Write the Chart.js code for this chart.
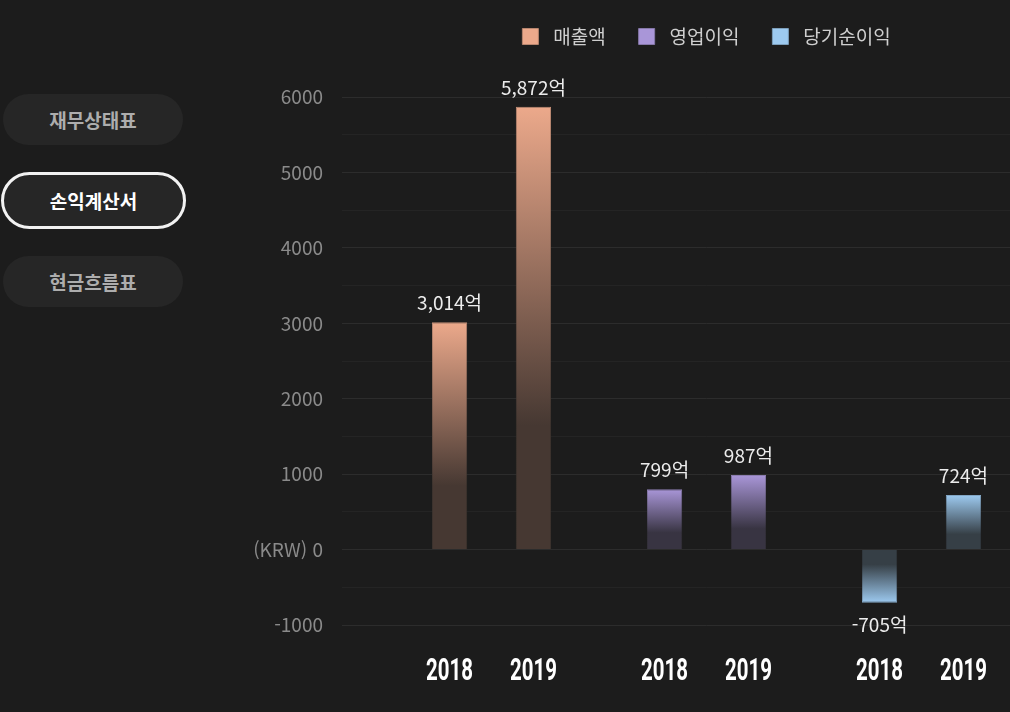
<!DOCTYPE html>
<html lang="ko">
<head>
<meta charset="utf-8">
<title>손익계산서</title>
<script src="https://cdn.jsdelivr.net/npm/chart.js@4.4.1/dist/chart.umd.min.js"></script>
<style>
  html, body { margin: 0; padding: 0; background: #1c1c1c; width: 1010px; height: 712px; overflow: hidden; }
  body { position: relative; font-family: "Noto Sans CJK KR", "Noto Sans", sans-serif; }
  .tab {
    position: absolute; left: 3px; width: 180px; height: 51px; border-radius: 26px;
    background: #262626; color: #adadad; font-size: 19px; font-weight: 700;
    display: flex; align-items: center; justify-content: center; box-sizing: border-box;
  }
  .tab.active { left: 1px; width: 185px; height: 57px; border: 3px solid #f2f2f2; color: #fff; border-radius: 29px; }
  #wrap { position: absolute; left: 240px; top: 0; width: 789px; height: 712px; }
</style>
</head>
<body>
<div class="tab" style="top:94px">재무상태표</div>
<div class="tab active" style="top:172px">손익계산서</div>
<div class="tab" style="top:256px">현금흐름표</div>
<div id="wrap"><canvas id="plChart"></canvas></div>
<script>
// 손익계산서 데이터 (단위: 억원)
const series = ['매출액', '영업이익', '당기순이익'];
const years = ['2018', '2019'];
const values2018 = [3014, 799, -705];
const values2019 = [5872, 987, 724];
const yLabels = [-1000, 0, 1000, 2000, 3000, 4000, 5000, 6000];
const seriesColors = ['#eca98b', '#a996d8', '#9dcaf0'];
const bgColor = [28, 28, 28];

// 배경색과 섞기
function mix(hex, t) {
  const n = parseInt(hex.slice(1), 16);
  const c = [(n >> 16) & 255, (n >> 8) & 255, n & 255];
  const r = c.map((v, i) => Math.round(v * t + bgColor[i] * (1 - t)));
  return 'rgb(' + r.join(',') + ')';
}

// 막대마다 위(값)에서 0 방향으로 어두워지는 그라데이션
function barGradient(context, strength) {
  const chart = context.chart;
  const base = seriesColors[context.dataIndex];
  if (!chart.chartArea) return base;
  const y = chart.scales.y;
  const yEnd = y.getPixelForValue(context.raw);
  const y0 = y.getPixelForValue(0);
  if (Math.abs(yEnd - y0) < 1) return base;
  const g = chart.ctx.createLinearGradient(0, yEnd, 0, y0);
  g.addColorStop(0, mix(base, strength));
  g.addColorStop(0.72, mix(base, 0.2 * strength));
  g.addColorStop(1, mix(base, 0.2 * strength));
  return g;
}

// 값 라벨 + 연도 라벨
const barLabels = {
  id: 'barLabels',
  afterDatasetsDraw(chart) {
    const ctx = chart.ctx;
    const bottom = chart.chartArea.bottom;
    ctx.save();
    chart.data.datasets.forEach((ds, di) => {
      chart.getDatasetMeta(di).data.forEach((bar, i) => {
        const v = ds.data[i];
        ctx.font = '19px "Noto Sans CJK KR"';
        ctx.fillStyle = '#ececec';
        ctx.textAlign = 'center';
        ctx.textBaseline = 'alphabetic';
        const text = v.toLocaleString('en-US') + '억';
        if (v >= 0) ctx.fillText(text, bar.x, bar.y - 12);
        else ctx.fillText(text, bar.x, bar.y + 29);

        ctx.save();
        ctx.translate(bar.x, bottom + 55);
        ctx.scale(0.66, 1);
        ctx.font = 'bold 31px Roboto';
        ctx.fillStyle = '#ffffff';
        ctx.fillText(ds.label, 0, 0);
        ctx.restore();
      });
    });
    ctx.restore();
  }
};

// 범례 아래 여백
const legendSpace = {
  id: 'legendSpace',
  beforeInit(chart) {
    const fit = chart.legend.fit;
    chart.legend.fit = function () {
      fit.call(this);
      this.height += 41;
    };
  }
};

const ctx = document.getElementById('plChart').getContext('2d');
const plChart = new Chart(ctx, {
  type: 'bar',
  data: {
    labels: series,
    datasets: [
      {
        label: years[0],
        data: values2018,
        backgroundColor: (c) => barGradient(c, 1),
        borderColor: (c) => barGradient(c, 0.8),
        borderWidth: 1,
        categoryPercentage: 0.78,
        barPercentage: 0.42
      },
      {
        label: years[1],
        data: values2019,
        backgroundColor: (c) => barGradient(c, 1),
        borderColor: (c) => barGradient(c, 0.8),
        borderWidth: 1,
        categoryPercentage: 0.78,
        barPercentage: 0.42
      }
    ]
  },
  options: {
    responsive: true,
    maintainAspectRatio: false,
    animation: false,
    layout: { padding: { top: -6, right: 0, bottom: 87, left: 0 } },
    plugins: {
      tooltip: { enabled: false },
      legend: {
        fullSize: false,
        onClick: null,
        labels: {
          color: '#cfcfcf',
          font: { family: 'Noto Sans CJK KR', size: 19 },
          boxWidth: 16,
          boxHeight: 16,
          padding: 33,
          generateLabels: () => series.map((name, i) => ({
            text: ' ' + name,
            fillStyle: seriesColors[i],
            strokeStyle: mix(seriesColors[i], 0.75),
            lineWidth: 1,
            fontColor: '#cfcfcf',
            hidden: false,
            datasetIndex: 0
          }))
        }
      }
    },
    scales: {
      x: { display: false },
      y: {
        min: -1000,
        max: 6000,
        afterFit: (axis) => { axis.width = 144; },
        border: { display: false },
        grid: {
          color: (c) => (c.tick && c.tick.value % 1000 === 0 ? '#2c2c2c' : '#242424'),
          tickLength: 42
        },
        ticks: {
          stepSize: 500,
          padding: 19,
          color: '#8a8a8a',
          font: { family: 'Noto Sans CJK KR', size: 19 },
          callback: (v) => (yLabels.includes(v) ? (v === 0 ? '(KRW) 0' : String(v)) : '')
        }
      }
    }
  },
  plugins: [barLabels, legendSpace]
});
</script>
</body>
</html>
